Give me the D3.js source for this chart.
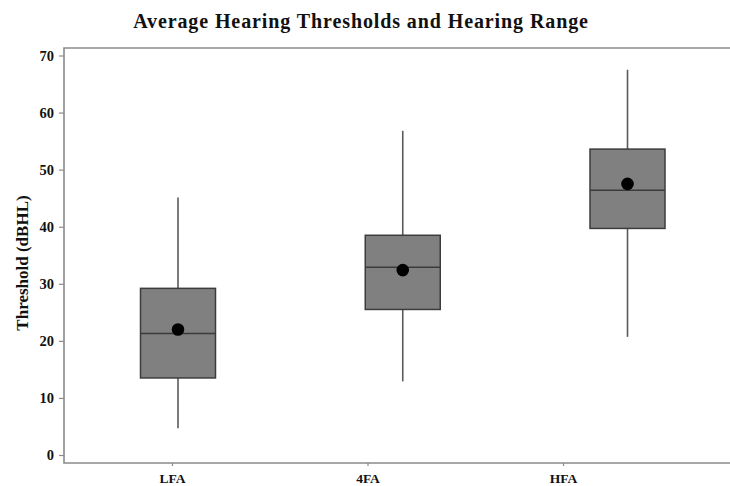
<!DOCTYPE html>
<html>
<head>
<meta charset="utf-8">
<script src="https://cdn.jsdelivr.net/npm/d3@7"></script>
<style>
  html, body { margin: 0; padding: 0; background: #fff; }
  svg { display: block; }
  text { font-family: "Liberation Serif", "Times New Roman", serif; font-weight: bold; fill: #111; }
</style>
</head>
<body>
<svg id="chart" width="730" height="486"></svg>
<script>
// Hearing threshold summaries per frequency average
const categories = ["LFA", "4FA", "HFA"];
const whiskerLow  = [4.7, 12.9, 20.7];
const q1          = [13.5, 25.5, 39.7];
const median      = [21.3, 32.9, 46.4];
const q3          = [29.2, 38.5, 53.6];
const whiskerHigh = [45.1, 56.8, 67.5];
const mean        = [22.0, 32.4, 47.5];
const yTicks      = [0, 10, 20, 30, 40, 50, 60, 70];

const svg = d3.select("#chart");
const frame = { left: 64, top: 48, right: 740, bottom: 463 };

const y = d3.scaleLinear().domain([0, 70]).range([455, 55.5]);
// label positions along the category axis
const xAxisScale = d3.scalePoint().domain(categories).range([172, 563]);
// box positions
const xBox = d3.scalePoint().domain(categories).range([178, 627.5]);
const boxW = 75;

// Frame (top, left, bottom)
svg.append("path")
  .attr("d", `M${frame.right},${frame.top}H${frame.left}V${frame.bottom}H${frame.right}`)
  .attr("fill", "none").attr("stroke", "#8a8a8a").attr("stroke-width", 1.6);

// Y axis
const yAxis = svg.append("g").attr("transform", `translate(${frame.left},0)`)
  .call(d3.axisLeft(y).tickValues(yTicks).tickSize(5).tickPadding(5).tickFormat(d3.format("d")));
yAxis.select(".domain").remove();
yAxis.selectAll(".tick line").attr("stroke", "#8a8a8a").attr("stroke-width", 1.2);
yAxis.selectAll(".tick text").style("font-size", "14.5px").attr("fill", "#111");

// X axis
const xAxis = svg.append("g").attr("transform", `translate(0,${frame.bottom})`)
  .call(d3.axisBottom(xAxisScale).tickSize(3).tickPadding(7));
xAxis.select(".domain").remove();
xAxis.selectAll(".tick line").attr("stroke", "#8a8a8a").attr("stroke-width", 1.2);
xAxis.selectAll(".tick text").style("font-size", "13.5px").attr("fill", "#111");

const data = categories.map((c, i) => ({
  c, lo: whiskerLow[i], q1: q1[i], med: median[i], q3: q3[i], hi: whiskerHigh[i], mean: mean[i]
}));

const g = svg.append("g");
// whiskers
g.selectAll(".whisk-hi").data(data).join("line")
  .attr("x1", d => xBox(d.c)).attr("x2", d => xBox(d.c))
  .attr("y1", d => y(d.q3)).attr("y2", d => y(d.hi))
  .attr("stroke", "#5a5a5a").attr("stroke-width", 1.6);
g.selectAll(".whisk-lo").data(data).join("line")
  .attr("x1", d => xBox(d.c)).attr("x2", d => xBox(d.c))
  .attr("y1", d => y(d.q1)).attr("y2", d => y(d.lo))
  .attr("stroke", "#5a5a5a").attr("stroke-width", 1.6);
// boxes
g.selectAll(".box").data(data).join("rect")
  .attr("x", d => xBox(d.c) - boxW / 2).attr("width", boxW)
  .attr("y", d => y(d.q3)).attr("height", d => y(d.q1) - y(d.q3))
  .attr("fill", "#808080").attr("stroke", "#3c3c3c").attr("stroke-width", 1.5);
// medians
g.selectAll(".med").data(data).join("line")
  .attr("x1", d => xBox(d.c) - boxW / 2).attr("x2", d => xBox(d.c) + boxW / 2)
  .attr("y1", d => y(d.med)).attr("y2", d => y(d.med))
  .attr("stroke", "#3a3a3a").attr("stroke-width", 1.5);
// means
g.selectAll(".mean").data(data).join("circle")
  .attr("cx", d => xBox(d.c)).attr("cy", d => y(d.mean)).attr("r", 6.3)
  .attr("fill", "#000");

// Title
svg.append("text").attr("x", 361).attr("y", 28).attr("text-anchor", "middle")
  .style("font-size", "20px").style("letter-spacing", "0.9px")
  .text("Average Hearing Thresholds and Hearing Range");

// Y axis title
svg.append("text").attr("transform", "translate(28,263) rotate(-90)")
  .attr("text-anchor", "middle").style("font-size", "17px").text("Threshold (dBHL)");
</script>
</body>
</html>
